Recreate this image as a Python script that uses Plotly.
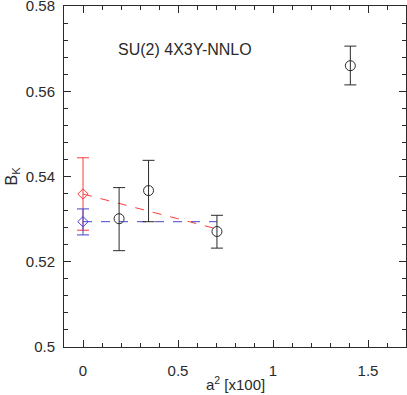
import plotly.graph_objects as go

# data
a2 = [0.19, 0.345, 0.705, 1.407]
bk = [0.5301, 0.5367, 0.5271, 0.5660]
bk_up = [0.5374, 0.5438, 0.5309, 0.5706]
bk_lo = [0.5226, 0.5294, 0.5232, 0.5615]

red_x = [0.0]
red_y = [0.5359]
red_up = [0.5444]
red_lo = [0.5274]
red_fit_x = [0.0, 0.705]
red_fit_y = [0.5359, 0.5277]

blue_x = [0.0]
blue_y = [0.5294]
blue_up = [0.5324]
blue_lo = [0.5263]
blue_fit_x = [0.0, 0.705]
blue_fit_y = [0.5294, 0.5294]

x_ticks = [0, 0.5, 1, 1.5]
x_ticktext = ["0", "0.5", "1", "1.5"]
y_ticks = [0.5, 0.52, 0.54, 0.56, 0.58]
y_ticktext = ["0.5", "0.52", "0.54", "0.56", "0.58"]

label = "SU(2) 4X3Y-NNLO"
x_title = "a<sup>2</sup> [x100]"
y_title = "B<sub>K</sub>"
FONT = "Liberation Sans"
INK = "#2a2a2a"

fig = go.Figure()
fig.add_trace(go.Scatter(x=red_fit_x, y=red_fit_y, mode="lines",
                         line=dict(color="#ff3b3b", width=1, dash="dash"), showlegend=False))
fig.add_trace(go.Scatter(x=blue_fit_x, y=blue_fit_y, mode="lines",
                         line=dict(color="#4444cc", width=1, dash="dash"), showlegend=False))
fig.add_trace(go.Scatter(
    x=red_x, y=red_y, mode="markers",
    marker=dict(symbol="diamond-open", size=8, color="#ff3b3b", line=dict(width=1)),
    error_y=dict(type="data", symmetric=False,
                 array=[u - v for u, v in zip(red_up, red_y)],
                 arrayminus=[v - l for v, l in zip(red_y, red_lo)],
                 color="#ff3b3b", thickness=1, width=6),
    showlegend=False))
fig.add_trace(go.Scatter(
    x=blue_x, y=blue_y, mode="markers",
    marker=dict(symbol="diamond-open", size=8, color="#4444cc", line=dict(width=1)),
    error_y=dict(type="data", symmetric=False,
                 array=[u - v for u, v in zip(blue_up, blue_y)],
                 arrayminus=[v - l for v, l in zip(blue_y, blue_lo)],
                 color="#4444cc", thickness=1, width=6),
    showlegend=False))
fig.add_trace(go.Scatter(
    x=a2, y=bk, mode="markers",
    marker=dict(symbol="circle-open", size=10, color=INK, line=dict(width=1)),
    error_y=dict(type="data", symmetric=False,
                 array=[u - v for u, v in zip(bk_up, bk)],
                 arrayminus=[v - l for v, l in zip(bk, bk_lo)],
                 color=INK, thickness=1, width=6),
    showlegend=False))

fig.add_annotation(x=0.174, y=0.5698, xref="x", yref="y", text=label, showarrow=False,
                   xanchor="left", yanchor="middle",
                   font=dict(family=FONT, size=16, color=INK))
# axis titles
fig.add_annotation(x=0.5, y=-0.106, xref="paper", yref="paper", text=x_title, showarrow=False,
                   xanchor="center", yanchor="middle",
                   font=dict(family=FONT, size=15, color=INK))
fig.add_annotation(x=-0.152, y=0.5, xref="paper", yref="paper", text=y_title, showarrow=False,
                   xanchor="center", yanchor="middle", textangle=-90,
                   font=dict(family=FONT, size=16, color=INK))

axis_common = dict(showgrid=False, zeroline=False, showline=True, linecolor=INK,
                   linewidth=1, mirror="allticks", ticks="inside", ticklen=7,
                   tickcolor=INK, automargin=False, ticklabeloverflow="allow",
                   tickfont=dict(family=FONT, size=15, color=INK))

fig.update_xaxes(range=[-0.1, 1.7], tickvals=x_ticks, ticktext=x_ticktext,
                 minor=dict(dtick=0.1, tick0=0, ticks="inside", ticklen=4, tickcolor=INK),
                 ticklabelstandoff=10,
                 **axis_common)
fig.update_yaxes(range=[0.5, 0.58001], tickvals=y_ticks, ticktext=y_ticktext,
                 minor=dict(dtick=0.004, tick0=0.5, ticks="inside", ticklen=4, tickcolor=INK),
                 ticklabelstandoff=5,
                 **axis_common)

fig.update_layout(width=407, height=395, margin=dict(l=64, r=1, t=6, b=48, autoexpand=False),
                  plot_bgcolor="white", paper_bgcolor="white")
fig.write_html("out.html", config={"displayModeBar": False},
               post_script="document.body.style.margin='0';document.body.style.overflow='hidden';")
